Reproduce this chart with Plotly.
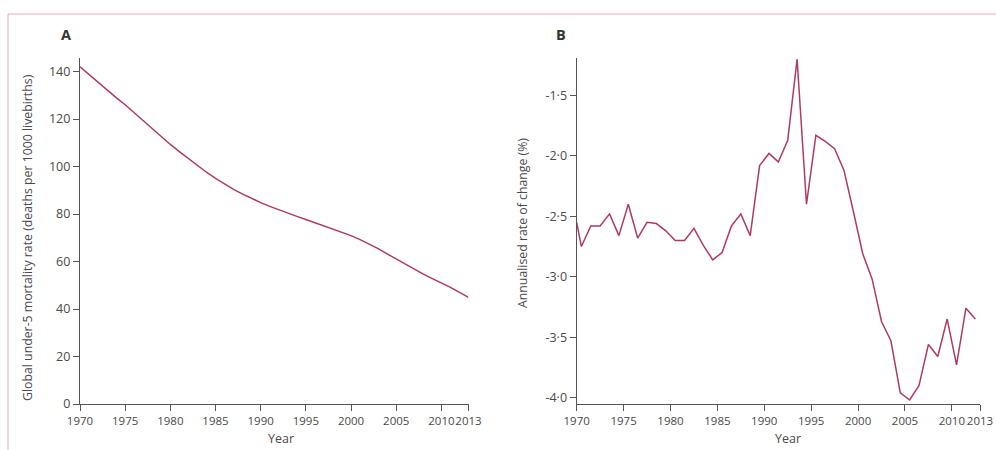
import plotly.graph_objects as go

W, H = 996, 450

# Panel A: global under-5 mortality rate (deaths per 1000 livebirths)
years_a = list(range(1970, 2014))
u5mr = [142.0, 138.7, 135.4, 132.1, 129.0, 126.0, 122.6, 119.2, 115.8, 112.5,
        109.3, 106.3, 103.3, 100.4, 97.6, 95.0, 92.6, 90.4, 88.4, 86.5,
        84.8, 83.2, 81.7, 80.3, 79.0, 77.7, 76.4, 75.1, 73.8, 72.4,
        70.9, 69.2, 67.4, 65.4, 63.2, 61.0, 58.8, 56.7, 54.7, 52.8,
        51.0, 49.1, 47.0, 44.9]

# Panel B: annualised rate of change (%)
years_b = [1970.0] + [y + 0.5 for y in range(1970, 2013)]
arc = [-2.55,
       -2.75, -2.58, -2.58, -2.48, -2.66, -2.40, -2.68, -2.55, -2.56, -2.62,
       -2.70, -2.70, -2.60, -2.74, -2.86, -2.80, -2.58, -2.48, -2.66, -2.08,
       -1.98, -2.05, -1.87, -1.20, -2.40, -1.83, -1.88, -1.94, -2.12, -2.46,
       -2.81, -3.02, -3.37, -3.53, -3.96, -4.02, -3.90, -3.56, -3.66, -3.35,
       -3.73, -3.26, -3.35]

x_ticks = [1970, 1975, 1980, 1985, 1990, 1995, 2000, 2005, 2010, 2013]
x_ticktext = [str(v) for v in x_ticks]
ya_ticks = [0, 20, 40, 60, 80, 100, 120, 140]
yb_ticks = [-4.0, -3.5, -3.0, -2.5, -2.0, -1.5]
yb_ticktext = ["-4·0", "-3·5", "-3·0", "-2·5", "-2·0", "-1·5"]

LINE = "#b03a62"
AX = "#555555"
TXT = "#4a4a4a"
FONT = "Open Sans"
FS = 12.5
FSX = 11.5

fig = go.Figure()
fig.add_trace(go.Scatter(x=years_a, y=u5mr, mode="lines", line=dict(color=LINE, width=1.5),
                         xaxis="x", yaxis="y", showlegend=False, hoverinfo="x+y"))
fig.add_trace(go.Scatter(x=years_b, y=arc, mode="lines", line=dict(color=LINE, width=1.5),
                         xaxis="x2", yaxis="y2", showlegend=False, hoverinfo="x+y"))

def px(x):
    return x / W

def py(y):
    return 1 - y / H

ax_common = dict(showline=True, linecolor=AX, linewidth=1.3, ticks="outside", ticklen=6,
                 tickwidth=1.3, tickcolor=AX, showgrid=False, zeroline=False,
                 automargin=False)
yfont = dict(tickfont=dict(family=FONT, size=FS, color=TXT))
xfont = dict(tickfont=dict(family=FONT, size=FSX, color=TXT))

fig.update_layout(
    width=W, height=H,
    margin=dict(l=0, r=0, t=0, b=0, pad=0, autoexpand=False),
    paper_bgcolor="white", plot_bgcolor="white",
    font=dict(family=FONT, size=FS, color=TXT),
    xaxis=dict(domain=[px(80), px(468.5)], range=[1970, 2013], tickvals=x_ticks,
               ticktext=x_ticktext, anchor="y", tickangle=0, **ax_common, **xfont),
    yaxis=dict(domain=[py(404), py(58)], range=[0, 145.7], tickvals=ya_ticks,
               anchor="x", **ax_common, **yfont),
    xaxis2=dict(domain=[px(576.7), px(980)], range=[1970, 2013], tickvals=x_ticks,
                ticktext=x_ticktext, anchor="y2", tickangle=0, **ax_common, **xfont),
    yaxis2=dict(domain=[py(404), py(58)], range=[-4.053, -1.19], tickvals=yb_ticks,
                ticktext=yb_ticktext, anchor="x2", **ax_common, **yfont),
)

ann = [
    dict(text="<b>A</b>", x=px(66), y=py(35), font=dict(size=14.5, color="#333333")),
    dict(text="<b>B</b>", x=px(561), y=py(35), font=dict(size=14.5, color="#333333")),
    dict(text="Year", x=px(281), y=py(438), font=dict(size=FS, color=TXT)),
    dict(text="Year", x=px(788), y=py(438), font=dict(size=FS, color=TXT)),
    dict(text="Global under-5 mortality rate (deaths per 1000 livebirths)", x=px(28), y=py(238),
         textangle=-90, font=dict(size=12.3, color=TXT)),
    dict(text="Annualised rate of change (%)", x=px(522), y=py(223),
         textangle=-90, font=dict(size=12.3, color=TXT)),
]
for a in ann:
    a.update(xref="paper", yref="paper", showarrow=False, xanchor="center", yanchor="middle")
    a["font"]["family"] = FONT
fig.update_layout(annotations=ann)

fig.update_layout(shapes=[
    dict(type="line", xref="paper", yref="paper", x0=px(8), x1=1.0, y0=py(14), y1=py(14),
         line=dict(color="#e6a9b8", width=1)),
    dict(type="line", xref="paper", yref="paper", x0=px(8), x1=px(8), y0=py(14), y1=0,
         line=dict(color="#e6a9b8", width=1)),
])

fig.write_html("out.html",
               config={"displayModeBar": False},
               post_script="document.body.style.margin='0';"
                           "document.body.style.padding='0';"
                           "document.documentElement.style.overflow='hidden';"
                           "document.body.style.overflow='hidden';")
